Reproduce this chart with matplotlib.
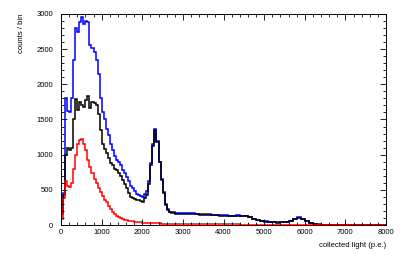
import numpy as np
import matplotlib
matplotlib.use("Agg")
import matplotlib.pyplot as plt
from matplotlib.ticker import MultipleLocator

plt.rcParams['font.family'] = ['Liberation Sans', 'DejaVu Sans']

# bin edges: 50 p.e. wide up to 3000, 100 p.e. wide from 3000 to 8000
edges = np.concatenate([np.arange(0, 3000, 50), np.arange(3000, 8001, 100)])

# blue histogram (counts / bin)
blue_fine = [200, 450, 1800, 1620, 1600, 1800, 2350, 2800, 2750, 2880,
             2960, 2860, 2900, 2880, 2560, 2520, 2460, 2350, 2150, 1800,
             1600, 1500, 1360, 1280, 1150, 1070, 980, 930, 900, 860,
             780, 740, 680, 630, 560, 520, 480, 440, 420, 410,
             400, 440, 480, 620, 880, 1150, 1370, 1200, 900, 650,
             470, 300, 230, 190, 180, 178, 176, 175, 175, 175]
blue_coarse = [172, 170, 165, 160, 155, 150, 150, 145, 145, 140,
               140, 135, 135, 140, 135, 135, 115, 90, 70, 58,
               50, 45, 40, 38, 40, 45, 60, 90, 110, 90,
               55, 25, 12, 8, 6, 5, 4, 3, 3, 2,
               2, 2, 1, 1, 1, 1, 1, 0, 0, 0]

# black histogram
black_fine = [150, 420, 1000, 1090, 1060, 1100, 1500, 1790, 1640, 1750,
              1700, 1680, 1780, 1840, 1660, 1750, 1740, 1700, 1580, 1350,
              1150, 1080, 1020, 950, 880, 850, 800, 780, 740, 700,
              640, 590, 520, 450, 400, 380, 370, 360, 350, 340,
              330, 380, 430, 590, 860, 1130, 1345, 1180, 890, 640,
              460, 290, 220, 180, 170, 165, 162, 160, 158, 158]
black_coarse = [160, 158, 155, 150, 148, 142, 142, 138, 138, 132,
                132, 128, 128, 132, 128, 128, 108, 84, 64, 52,
                45, 40, 36, 34, 36, 40, 55, 85, 105, 85,
                50, 22, 10, 7, 5, 4, 3, 3, 2, 2,
                2, 1, 1, 1, 1, 1, 0, 0, 0, 0]

# red histogram
red_fine = [80, 380, 620, 550, 540, 600, 800, 1000, 1150, 1210,
            1220, 1150, 1060, 930, 820, 740, 660, 600, 520, 470,
            410, 360, 320, 270, 230, 190, 150, 135, 110, 95,
            85, 75, 68, 60, 55, 50, 46, 43, 40, 37,
            34, 32, 30, 28, 26, 25, 24, 23, 22, 21,
            20, 19, 18, 18, 17, 17, 16, 16, 15, 15]
red_coarse = [14, 14, 13, 13, 12, 12, 11, 11, 10, 10,
              9, 9, 8, 8, 7, 7, 6, 6, 5, 5,
              4, 4, 4, 3, 3, 3, 3, 2, 2, 2,
              2, 2, 1, 1, 1, 1, 1, 1, 1, 1,
              0, 0, 0, 0, 0, 0, 0, 0, 0, 0]

blue = np.array(blue_fine + blue_coarse)
black = np.array(black_fine + black_coarse)
red = np.array(red_fine + red_coarse)

fig = plt.figure(figsize=(4.07, 2.66), dpi=100)
ax = fig.add_axes([61/407, 41/266, 325/407, 211/266])

ax.stairs(blue, edges, color='#0000ff', lw=1.1)
ax.stairs(black, edges, color='black', lw=1.1)
ax.stairs(red, edges, color='#ff0000', lw=1.1)

ax.set_xlim(0, 8000)
ax.set_ylim(0, 3000)
ax.xaxis.set_major_locator(MultipleLocator(1000))
ax.xaxis.set_minor_locator(MultipleLocator(200))
ax.yaxis.set_major_locator(MultipleLocator(500))
ax.yaxis.set_minor_locator(MultipleLocator(100))

ax.tick_params(which='both', direction='in', top=True, right=True,
               labelsize=5.5, width=0.6)
ax.tick_params(which='major', length=4.3)
ax.tick_params(which='minor', length=2.2)
ax.tick_params(axis='x', pad=3)
ax.tick_params(axis='y', pad=5.5)
for s in ax.spines.values():
    s.set_linewidth(0.7)

ax.set_xlabel('collected light (p.e.)', fontsize=5.5, loc='right', labelpad=4)
ax.set_ylabel('counts / bin', fontsize=5.5, loc='top', labelpad=8)

fig.savefig('out.png', dpi=100)
